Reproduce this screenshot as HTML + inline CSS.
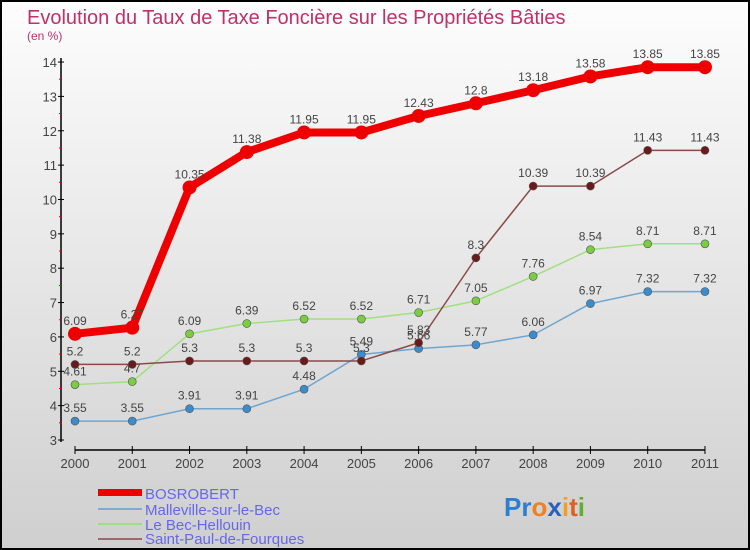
<!DOCTYPE html>
<html><head><meta charset="utf-8"><style>
html,body{margin:0;padding:0}
body{width:750px;height:550px;overflow:hidden;font-family:"Liberation Sans",sans-serif}
#wrap{position:relative;width:746px;height:546px;border:2px solid #000;background:linear-gradient(#fdfdfd,#cfcfcf)}
</style></head><body>
<div id="wrap">
<svg id="chart" width="746" height="546" style="position:absolute;left:0;top:0">
<text x="25" y="22" font-size="20" fill="#c0306a">Evolution du Taux de Taxe Foncière sur les Propriétés Bâties</text>
<text x="25" y="38" font-size="12" fill="#c0306a">(en %)</text>
<g id="axes"></g><g id="series"></g>
<g>
<rect x="96" y="487" width="44" height="7" fill="#e00"/>
<text x="143" y="497" font-size="15" fill="#6666ee">BOSROBERT</text>
<rect x="96" y="506" width="44" height="2" fill="#7aaed0"/>
<text x="143" y="513" font-size="15" fill="#6666ee">Malleville-sur-le-Bec</text>
<rect x="96" y="521" width="44" height="2" fill="#9ee080"/>
<text x="143" y="528" font-size="15" fill="#6666ee">Le Bec-Hellouin</text>
<rect x="96" y="536" width="44" height="2" fill="#9a6a6a"/>
<text x="143" y="542" font-size="15" fill="#6666ee">Saint-Paul-de-Fourques</text>
</g>
<g font-size="26" font-weight="bold">
<text x="502" y="514"><tspan fill="#2a7fd0">Pr</tspan><tspan fill="#f08020">o</tspan><tspan fill="#2a5fc0">x</tspan><tspan fill="#f0a020">i</tspan><tspan fill="#e06020">t</tspan><tspan fill="#60b030">i</tspan></text>
</g>
</svg>
</div>
<script>
const years=[2000,2001,2002,2003,2004,2005,2006,2007,2008,2009,2010,2011];
const bosrobert=[6.09,6.27,10.35,11.38,11.95,11.95,12.43,12.8,13.18,13.58,13.85,13.85];
const malleville=[3.55,3.55,3.91,3.91,4.48,5.49,5.66,5.77,6.06,6.97,7.32,7.32];
const lebec=[4.61,4.7,6.09,6.39,6.52,6.52,6.71,7.05,7.76,8.54,8.71,8.71];
const saintpaul=[5.2,5.2,5.3,5.3,5.3,5.3,5.83,8.3,10.39,10.39,11.43,11.43];
const yTicks=[3,4,5,6,7,8,9,10,11,12,13,14];
const NS='http://www.w3.org/2000/svg';
const X=i=>73+i*57.27;
const Y=v=>438-(v-3)*34.36;
function mk(tag,attrs,parent){const e=document.createElementNS(NS,tag);for(const k in attrs)e.setAttribute(k,attrs[k]);parent.appendChild(e);return e;}
const ax=document.getElementById('axes');
let l=mk('line',{x1:59,y1:Y(14)-4,x2:59,y2:Y(3)+2,stroke:'#000','stroke-width':1.5},ax);


yTicks.forEach(v=>{
 mk('line',{x1:56,y1:Y(v),x2:62,y2:Y(v),stroke:'#000'},ax);
 if(v<14)mk('line',{x1:57,y1:Y(v+0.5),x2:60,y2:Y(v+0.5),stroke:'#e00'},ax);
 const t=mk('text',{x:55,y:Y(v)+5,'text-anchor':'end','font-size':13,fill:'#444'},ax);
 t.textContent=v;
 
 
});
l=mk('line',{x1:X(0),y1:448,x2:X(11),y2:448,stroke:'#000','stroke-width':1.5},ax);


years.forEach((yr,i)=>{
 mk('line',{x1:X(i),y1:444,x2:X(i),y2:452,stroke:'#000'},ax);
 const t=mk('text',{x:X(i),y:466,'text-anchor':'middle','font-size':13,fill:'#444'},ax);
 t.textContent=yr;
 
 
});
const sg=document.getElementById('series');
function draw(vals,color,dot,w,r,name){
 const g=mk('g',{},sg);
 
 
 const p=mk('polyline',{points:vals.map((v,i)=>X(i)+','+Y(v)).join(' '),fill:'none',stroke:color,'stroke-width':w,'stroke-linejoin':'round'},g);
 
 
 vals.forEach((v,i)=>{
  const c=mk('circle',{cx:X(i),cy:Y(v),r:r,fill:dot,stroke:'#555','stroke-width':r>5?0:0.6},g);
  
  
  const t=mk('text',{x:X(i),y:Y(v)-9,'text-anchor':'middle','font-size':12,fill:'#444'},g);
  t.textContent=v;
  
  
 });
}
draw(malleville,'#6fa6d0','#3a8ccc',1.5,4,'malleville');
draw(lebec,'#a0e080','#7acc40',1.5,4,'le-bec');
draw(saintpaul,'#8a4a4a','#6a1a1a',1.5,4,'saint-paul');
draw(bosrobert,'#ee0000','#ee0000',8,7,'bosrobert');
</script>
</body></html>
